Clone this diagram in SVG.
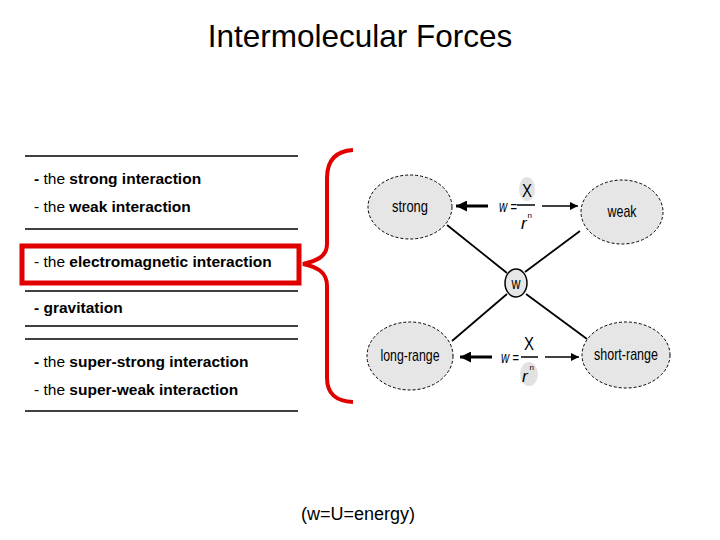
<svg xmlns="http://www.w3.org/2000/svg" width="720" height="540" viewBox="0 0 720 540">
<style>
.t{font-family:"Liberation Sans",Arial,sans-serif;fill:#000}
.li{font-size:15.5px}
.b{font-weight:bold}
.rule{stroke:#000;stroke-width:1.3}
.node{fill:#e6e6e6;stroke:#000;stroke-width:1;stroke-dasharray:3 2}
.lbl{font-size:17px;text-anchor:middle}
.conn{stroke:#000;stroke-width:1.8;fill:none}
.f{font-size:17px;font-style:italic}
</style>
<defs>
<marker id="ah" viewBox="0 0 10 10" refX="10" refY="5" markerWidth="8" markerHeight="8" markerUnits="userSpaceOnUse" orient="auto"><path d="M0,0 L10,5 L0,10 z" fill="#000"/></marker>
<marker id="ahb" viewBox="0 0 10 10" refX="10" refY="5" markerWidth="11" markerHeight="11" markerUnits="userSpaceOnUse" orient="auto"><path d="M0,0 L10,5 L0,10 z" fill="#000"/></marker>
</defs>
<rect width="720" height="540" fill="#fff"/>
<text class="t" x="360" y="47" font-size="31.5" text-anchor="middle">Intermolecular Forces</text>

<g id="list">
<line class="rule" x1="25" y1="156" x2="298" y2="156"/>
<text class="t li" x="34" y="184"><tspan class="b">-</tspan> the <tspan class="b">strong interaction</tspan></text>
<text class="t li" x="34" y="212">- the <tspan class="b">weak interaction</tspan></text>
<line class="rule" x1="25" y1="229" x2="298" y2="229"/>
<rect x="22" y="246" width="277" height="37" fill="none" stroke="#e00000" stroke-width="5"/>
<text class="t li" x="34" y="267">- the <tspan class="b">electromagnetic interaction</tspan></text>
<line class="rule" x1="25" y1="291" x2="298" y2="291"/>
<text class="t li b" x="34" y="313">- gravitation</text>
<line class="rule" x1="25" y1="326" x2="298" y2="326"/>
<line class="rule" x1="25" y1="339" x2="298" y2="339"/>
<text class="t li" x="34" y="367"><tspan class="b">-</tspan> the <tspan class="b">super-strong interaction</tspan></text>
<text class="t li" x="34" y="395">- the <tspan class="b">super-weak interaction</tspan></text>
<line class="rule" x1="25" y1="411" x2="298" y2="411"/>
</g>

<g id="brace">
<path d="M353,150 C336,151 327,160 327,178 L327,244 C327,257 316,261 303,264 C316,267 327,271 327,286 L327,378 C327,394 336,401 353,402" fill="none" stroke="#e00000" stroke-width="4"/>
</g>

<g id="connectors">
<line class="conn" x1="447" y1="225" x2="507" y2="273"/>
<line class="conn" x1="580" y1="231" x2="525" y2="272"/>
<line class="conn" x1="507" y1="294" x2="452" y2="341"/>
<line class="conn" x1="526" y1="294" x2="587" y2="339"/>
<line x1="488" y1="206" x2="456" y2="206" stroke="#000" stroke-width="3" marker-end="url(#ahb)"/>
<line x1="542" y1="206" x2="578" y2="206" stroke="#000" stroke-width="1.5" marker-end="url(#ah)"/>
<line x1="492" y1="357" x2="460" y2="357" stroke="#000" stroke-width="3" marker-end="url(#ahb)"/>
<line x1="545" y1="357" x2="579" y2="357" stroke="#000" stroke-width="1.5" marker-end="url(#ah)"/>
</g>

<g id="strong">
<ellipse class="node" cx="410" cy="207" rx="42" ry="32"/>
<text class="t lbl" x="410" y="212" textLength="36" lengthAdjust="spacingAndGlyphs">strong</text>
</g>
<g id="weak">
<ellipse class="node" cx="622" cy="212" rx="41" ry="32"/>
<text class="t lbl" x="622" y="217" textLength="29" lengthAdjust="spacingAndGlyphs">weak</text>
</g>
<g id="w">
<ellipse cx="516" cy="283" rx="11" ry="14" fill="#e6e6e6" stroke="#000" stroke-width="1.5"/>
<text class="t lbl" x="516" y="289" font-size="15" textLength="9" lengthAdjust="spacingAndGlyphs">w</text>
</g>
<g id="long-range">
<ellipse class="node" cx="410" cy="356" rx="43" ry="34"/>
<text class="t lbl" x="410" y="361" textLength="59" lengthAdjust="spacingAndGlyphs">long-range</text>
</g>
<g id="short-range">
<ellipse class="node" cx="626" cy="355" rx="44" ry="33"/>
<text class="t lbl" x="626" y="360" textLength="64" lengthAdjust="spacingAndGlyphs">short-range</text>
</g>

<g id="formula-top">
<ellipse cx="527" cy="189" rx="8" ry="12" fill="#e2e2e2"/>
<text class="t f" x="499" y="212" font-size="18" textLength="18" lengthAdjust="spacingAndGlyphs">w =</text>
<text class="t" x="527" y="197" font-size="18" text-anchor="middle" textLength="10" lengthAdjust="spacingAndGlyphs">X</text>
<line x1="517" y1="205" x2="535" y2="205" stroke="#000" stroke-width="1.5"/>
<text class="t f" x="521" y="229" font-size="14">r</text>
<text class="t" x="527.5" y="218" font-size="8">n</text>
</g>
<g id="formula-bottom">
<ellipse cx="529" cy="374" rx="9" ry="12" fill="#e2e2e2"/>
<text class="t f" x="501" y="363" font-size="18" textLength="18" lengthAdjust="spacingAndGlyphs">w =</text>
<text class="t" x="529" y="350" font-size="18" text-anchor="middle" textLength="10" lengthAdjust="spacingAndGlyphs">X</text>
<line x1="521" y1="357" x2="538" y2="357" stroke="#000" stroke-width="1.5"/>
<text class="t f" x="522" y="382" font-size="15">r</text>
<text class="t" x="529.5" y="370" font-size="8">n</text>
</g>

<text class="t" x="358" y="520" font-size="18" text-anchor="middle">(w=U=energy)</text>
</svg>
